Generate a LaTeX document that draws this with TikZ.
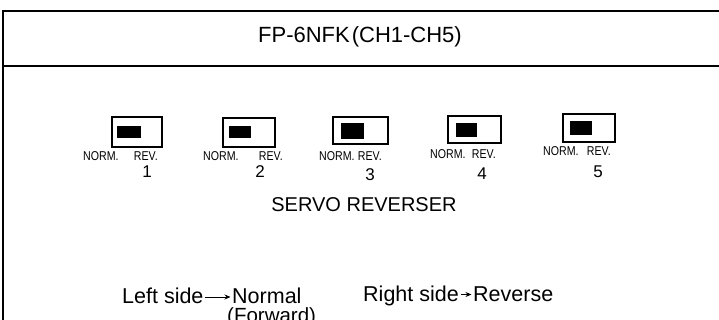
\documentclass[tikz,border=0pt]{standalone}
\usepackage{fontspec}
\usepackage{graphicx}
\setmainfont{Liberation Sans}
\usetikzlibrary{arrows.meta}
\newcommand\narrowtxt[1]{\scalebox{0.83}[1]{#1}}
\tikzset{
  frameline/.style={line width=1.6pt},
  swbox/.style={draw, line width=1.3pt, inner sep=0pt},
  knob/.style={fill=black, draw=black, inner sep=0pt},
  lbl/.style={inner sep=0pt, font=\fontsize{12.8}{13}\selectfont},
  num/.style={inner sep=0pt, font=\fontsize{17}{17}\selectfont},
  big/.style={inner sep=0pt, font=\fontsize{22}{22}\selectfont},
  side/.style={inner sep=0pt, font=\fontsize{21.5}{22}\selectfont},
  sidearrow/.style={-{Stealth[length=6pt,width=5pt]}, line width=0.8pt}
}
\begin{document}
\begin{tikzpicture}[x=1pt,y=-1pt]
\useasboundingbox (0,0) rectangle (719,320);
\clip (0,0) rectangle (719,320);
\fill[white] (0,0) rectangle (719,320);
% frame
\coordinate (tl) at (3,11);
\coordinate (tr) at (719,11);
\coordinate (ml) at (3,66);
\coordinate (mr) at (719,66);
\coordinate (bl) at (3,320);
\draw[frameline] (tr) -- (tl) -- (bl);
\draw[frameline] (ml) -- (mr);
% title
\node[big] (title) at (360,37) {FP-6NFK\hspace{2pt}(CH1-CH5)};
% switches: label baseline = cap centre + 4.6
\foreach \i/\bx/\by/\bw/\bh/\kx/\ky/\kw/\kh/\nl/\rr/\ty/\nx/\ny in {
  1/137/132/50/30/128.5/131.5/23/11/83/158/160.6/147/172,
  2/249/132.5/52/29/239.5/131.5/21/11/203/283/160.6/260/172,
  3/360.5/130.5/55/27/352/130.5/22/15/319/382/161/370/174.5,
  4/474.5/129.5/53/27/466/129.5/20/13/430/496/159/482/174,
  5/589/128/52/28/580.5/127.5/21/13/543/611/156/598/172}{
  \node[swbox, minimum width=\bw, minimum height=\bh] (sw\i) at (\bx,\by) {};
  \node[knob, minimum width=\kw, minimum height=\kh] (kn\i) at (\kx,\ky) {};
  \node[lbl, anchor=base west] (norm\i) at (\nl,\ty) {\narrowtxt{NORM.}};
  \node[lbl, anchor=base east] (rev\i) at (\rr,\ty) {\narrowtxt{REV.}};
  \node[num] (no\i) at (\nx,\ny) {\i};
}
\node[big, font=\fontsize{20}{22}\selectfont] (servo) at (364,205) {SERVO REVERSER};
% bottom legend
\node[side, anchor=base west] (ls) at (122,303.5) {Left side};
\node[side, anchor=base west] (nm) at (232,303.5) {Normal};
\node[side, anchor=base west, font=\fontsize{20.5}{21}\selectfont] (fw) at (227,322) {(Forward)};
\node[side, anchor=base west] (rs) at (363,301) {Right side};
\node[side, anchor=base west] (rv) at (473,301) {Reverse};
\draw[sidearrow] ([xshift=1.5pt,yshift=6.5pt]ls.base east) -- ([xshift=-1.5pt,yshift=6.5pt]nm.base west);
\draw[sidearrow] ([xshift=1.5pt,yshift=6.5pt]rs.base east) -- ([xshift=-1.5pt,yshift=6.5pt]rv.base west);
\end{tikzpicture}
\end{document}
